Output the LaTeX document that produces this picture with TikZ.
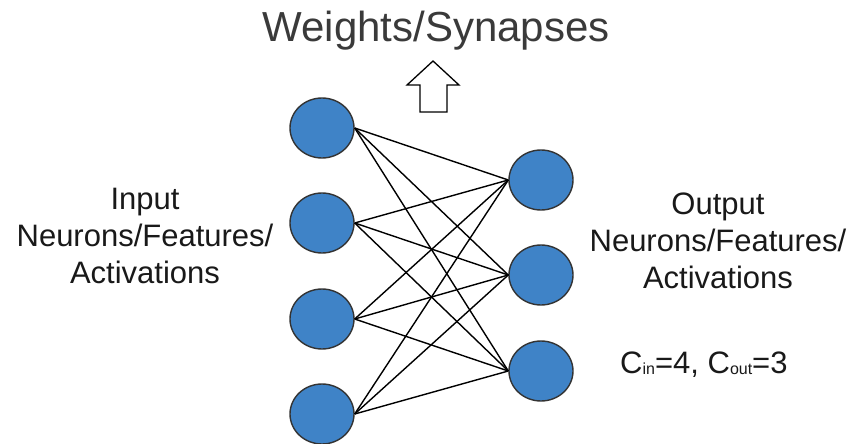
\documentclass[tikz,border=0pt]{standalone}
\usepackage{fontspec}
\setmainfont{Liberation Sans}
\usetikzlibrary{shapes.geometric}
\definecolor{neuronblue}{HTML}{3F83C7}
\definecolor{rimgray}{HTML}{333333}
\definecolor{textgray}{HTML}{3A3A3A}
\begin{document}
\begin{tikzpicture}[x=1pt,y=-1pt,
  neuron/.style={ellipse,draw=rimgray,line width=1.4pt,fill=neuronblue,minimum width=64pt,minimum height=60pt,inner sep=0pt},
  synapse/.style={black,line width=1.4pt},
  label/.style={text=black!90,align=center,font=\fontsize{31}{37}\selectfont}]
  \useasboundingbox (0,0) rectangle (857,444);
  % neurons
  \foreach \i/\y in {1/128,2/223,3/319,4/414}
    \node[neuron] (in\i) at (322,\y) {};
  \foreach \j/\y in {1/180,2/275,3/371}
    \node[neuron] (out\j) at (541,\y) {};
  % weights
  \foreach \i in {1,...,4}
    \foreach \j in {1,2,3}
      \draw[synapse] (in\i.east) -- (out\j.west);
  % arrow
  \draw[line width=1.3pt,fill=white,line join=miter] (420,112) -- (447,112) -- (447,85) -- (459,85) -- (433,61) -- (407,85) -- (420,85) -- cycle;
  \node[anchor=base,text=textgray,font=\fontsize{42}{48}\selectfont,inner sep=0pt] (weights) at (436,42) {Weights/Synapses};
  \node[label] (input) at (145,236) {Input\\Neurons/Features/\\Activations};
  \node[label] (output) at (718,241) {Output\\Neurons/Features/\\Activations};
  \node[label,anchor=base west,inner sep=0pt] (sizes) at (620,373) {C\raisebox{-1pt}{\fontsize{16}{16}\selectfont in}=4, C\raisebox{-1pt}{\fontsize{16}{16}\selectfont out}=3};
\end{tikzpicture}
\end{document}
